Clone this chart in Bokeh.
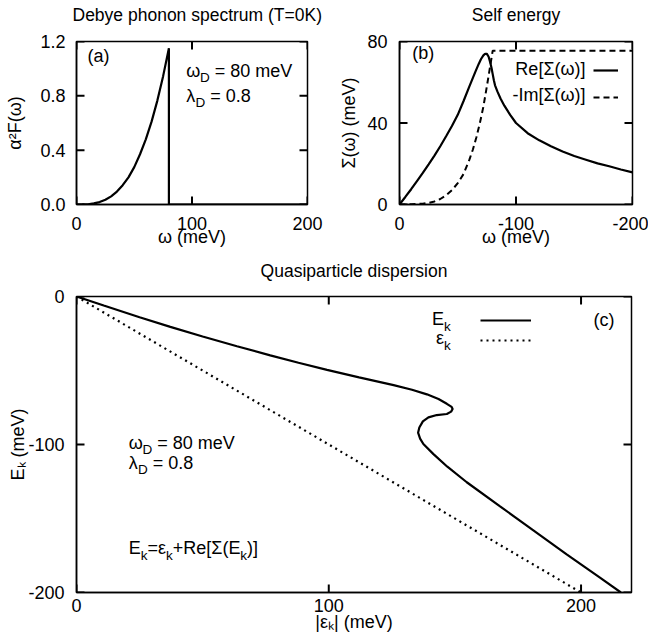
from bokeh.plotting import figure
from bokeh.layouts import column, row
from bokeh.models import (Range1d, FixedTicker, Label, Legend, LegendItem, LinearAxis, Title,
                          CustomJSTickFormatter)
from bokeh.embed import file_html
from bokeh.resources import INLINE

FONT = "Liberation Sans"
FS = 18

# ---------------- data ----------------
# (a) Debye phonon spectrum
omega_a = [0, 5, 10, 15, 20, 25, 30, 35, 40, 45, 50, 55, 60, 65, 70, 75, 80, 80, 200]
a2F = [0, 0.0003, 0.002, 0.008, 0.018, 0.035, 0.06, 0.095, 0.142, 0.2, 0.275, 0.37,
       0.48, 0.61, 0.765, 0.945, 1.15, 0, 0]

# (b) self energy
omega_re = [0, -5, -10, -15, -20, -25, -30, -35, -40, -45, -50, -55, -60, -65, -68, -70,
            -72, -73.5, -75, -76.5, -78, -79, -80, -81, -82, -84, -86.7, -90, -95, -100,
            -110, -120, -130, -140, -150, -160, -170, -180, -190, -200]
re_sigma = [0, 3.7, 7.5, 11.5, 15.5, 19.7, 24, 28.6, 33.5, 38.5, 44, 50.8, 58, 65, 69,
            71.4, 73.2, 74, 73.9, 72.5, 69.5, 67, 64, 61, 58.5, 55.5, 52, 48.5, 44, 40,
            35, 31.5, 28.6, 26, 23.8, 22, 20.2, 18.8, 17.2, 15.8]
omega_im = [0, -10, -20, -25, -30, -35, -40, -45, -50, -55, -60, -63, -66, -69, -72, -75,
            -77, -79, -80, -200]
im_sigma = [0, 0.1, 0.4, 0.8, 1.5, 2.7, 4.5, 7, 10.5, 15, 22, 27, 33, 40, 48, 58,
            65, 72, 75.5, 75.5]

# (c) quasiparticle dispersion
eps_k = [0, 10.8, 25, 37.2, 50, 63.6, 76.8, 88, 99.3, 112, 125.7, 133, 138.9, 143.5,
         146.8, 148.7, 149.1, 148.5, 146.8, 142.8, 139.5, 137.3, 135.9, 135.4, 136.2,
         137.5, 141.5, 147, 154.7, 167.9, 181.1, 194.3, 207.5, 215.8]
E_k = [0, -6.1, -14, -20.5, -27, -33.6, -39.8, -44.8, -49.6, -54.6, -59.9, -63, -66.1, -69.3,
       -72.5, -74.6, -76, -77.8, -79.4, -80.1, -81.7, -84.4, -88.5, -92, -96,
       -99.7, -106.5, -115, -125.5, -141.8, -158, -174.2, -190, -200]
eps_bare = [0, 200]
E_bare = [0, -200]

ticks_a_x = [0, 100, 200]
ticks_a_y = [0, 0.4, 0.8, 1.2]
ticks_b_x = [0, -100, -200]
ticks_b_y = [0, 40, 80]
ticks_c_x = [0, 100, 200]
ticks_c_y = [0, -100, -200]

# ---------------- helpers ----------------
W = {' ': 278, '=': 584, '+': 584, '-': 333, '.': 278, 'm': 833, 'e': 556, 'V': 667,
     'E': 667, 'k': 500, 'R': 722, 'I': 278, '[': 278, ']': 278, '(': 333, ')': 333,
     'D': 722, 'a': 556, 'b': 556, 'c': 500, 'Σ': 600, 'ω': 760, 'λ': 520, 'ε': 450}
for d in "0123456789":
    W[d] = 556

MID = 0.345  # em offset from alphabetic baseline to the middle of the em box


def tw(s, fs):
    return sum(W.get(c, 556) for c in s) / 1000.0 * fs


def txt(p, x, y, t, fs=FS, align="left"):
    p.add_layout(Label(x=x, y=y, y_offset=MID * fs, text=t, text_font=FONT,
                       text_font_size=f"{fs}px", text_baseline="middle", text_align=align,
                       text_color="black"))


def rich(p, x, y, parts, fs=FS, align="left"):
    sub_fs = fs * 0.75
    total = sum(tw(t, sub_fs if s else fs) for t, s in parts)
    off = -total if align == "right" else 0
    for t, s in parts:
        f = sub_fs if s else fs
        stripped = t.lstrip(" ")
        lead = tw(t[:len(t) - len(stripped)], f)
        yo = (-0.3 * fs + MID * f) if s else MID * f
        p.add_layout(Label(x=x, y=y, x_offset=off + lead, y_offset=yo,
                           text=stripped, text_font=FONT, text_font_size=f"{f:.1f}px",
                           text_baseline="middle", text_align="left", text_color="black"))
        off += tw(t, f)


def style(p, xt, yt, xstand, ystand, xlstand, ylstand, fw, fh, title, title_gap,
          title_align="center", title_offset=0, ydigits=0):
    p.xgrid.visible = False
    p.ygrid.visible = False
    p.outline_line_color = "black"
    p.outline_line_width = 1.5
    p.background_fill_color = "white"
    p.border_fill_color = "white"
    p.xaxis.ticker = FixedTicker(ticks=xt)
    p.yaxis.ticker = FixedTicker(ticks=yt)
    p.xaxis.formatter = CustomJSTickFormatter(code="return tick.toFixed(0)")
    p.yaxis.formatter = CustomJSTickFormatter(code=f"return tick.toFixed({ydigits})")
    for ax, st, lst in ((p.xaxis[0], xstand, xlstand), (p.yaxis[0], ystand, ylstand)):
        ax.major_tick_in = 0
        ax.major_tick_out = 0
        ax.minor_tick_line_color = None
        ax.axis_line_width = 1.5
        ax.major_label_text_font = FONT
        ax.major_label_text_font_size = f"{FS}px"
        ax.major_label_text_color = "black"
        ax.major_label_standoff = st
        ax.axis_label_text_font = FONT
        ax.axis_label_text_font_size = f"{FS}px"
        ax.axis_label_text_font_style = "normal"
        ax.axis_label_text_color = "black"
        ax.axis_label_standoff = lst
    # inward tick marks on all four sides (gnuplot style), 8 px long
    xr, yr = p.x_range, p.y_range
    ly = 8.0 * (yr.end - yr.start) / fh
    lx = 8.0 * (xr.end - xr.start) / fw
    xs = [[t, t] for t in xt] * 2
    ys = ([[yr.start, yr.start + ly] for t in xt] + [[yr.end, yr.end - ly] for t in xt])
    xs += [[xr.start, xr.start + lx] for t in yt] + [[xr.end, xr.end - lx] for t in yt]
    ys += [[t, t] for t in yt] * 2
    p.multi_line(xs=xs, ys=ys, line_color="black", line_width=2)
    # invisible spacer between the frame and the title
    spacer = LinearAxis(ticker=FixedTicker(ticks=xt), major_tick_out=title_gap,
                        major_tick_in=0, major_label_standoff=0,
                        major_label_text_font_size="0px",
                        formatter=CustomJSTickFormatter(code="return ''"),
                        axis_line_color=None, major_tick_line_color="white",
                        major_tick_line_alpha=0.01, minor_tick_line_color=None)
    p.add_layout(spacer, "above")
    p.add_layout(Title(text=title, align=title_align, offset=title_offset,
                       vertical_align="bottom", standoff=0, text_font=FONT,
                       text_font_size="17.5px", text_font_style="normal",
                       text_color="black"), "above")


# ---------------- panel (a) ----------------
pa = figure(width=330, height=250, x_range=Range1d(0, 200), y_range=Range1d(0, 1.2),
            output_backend="svg", toolbar_location=None, title=None,
            min_border_left=76, min_border_right=23, min_border_top=41, min_border_bottom=46,
            x_axis_label="ω (meV)", y_axis_label="α²F(ω)")
pa.line(omega_a, a2F, line_color="black", line_width=2.2)
style(pa, ticks_a_x, ticks_a_y, 12, 11, -6, 12, 231, 163,
      "Debye phonon spectrum (T=0K)", 17, title_align="left", title_offset=-4, ydigits=1)
txt(pa, 9.6, 1.049, "(a)")
rich(pa, 95, 0.939, [("ω", False), ("D", True), (" = 80 meV", False)])
rich(pa, 95, 0.753, [("λ", False), ("D", True), (" = 0.8", False)])

# ---------------- panel (b) ----------------
pb = figure(width=318, height=250, x_range=Range1d(0, -200), y_range=Range1d(0, 80),
            output_backend="svg", toolbar_location=None, title=None,
            min_border_left=69, min_border_right=16, min_border_top=41, min_border_bottom=46,
            x_axis_label="ω (meV)", y_axis_label="Σ(ω) (meV)")
r_re = pb.line(omega_re, re_sigma, line_color="black", line_width=2.2)
r_im = pb.line(omega_im, im_sigma, line_color="black", line_width=2, line_dash="6 4")
style(pb, ticks_b_x, ticks_b_y, 12, 12, -6, 5, 233, 163, "Self energy", 17)
txt(pb, -10.9, 71.4, "(b)")
txt(pb, -159.7, 63.7, "Re[Σ(ω)]", align="right")
txt(pb, -159.7, 50.6, "-Im[Σ(ω)]", align="right")
lgb = Legend(items=[LegendItem(label=" ", renderers=[r_re]),
                    LegendItem(label=" ", renderers=[r_im])],
             location=(194, 97), orientation="vertical", glyph_width=25, glyph_height=20,
             spacing=7, padding=0, margin=0, label_width=0, label_height=20, label_standoff=0,
             label_text_font_size="1px", border_line_alpha=0, background_fill_alpha=0)
pb.add_layout(lgb)

# ---------------- panel (c) ----------------
pc = figure(width=648, height=388, x_range=Range1d(0, 220), y_range=Range1d(-200, 0),
            output_backend="svg", toolbar_location=None, title=None,
            min_border_left=76, min_border_right=17, min_border_top=46, min_border_bottom=46,
            x_axis_label="|εₖ| (meV)", y_axis_label="Eₖ (meV)")
r_ek = pc.line(eps_k, E_k, line_color="black", line_width=2.2)
r_eps = pc.line(eps_bare, E_bare, line_color="black", line_width=2.2, line_dash="2 4")
style(pc, ticks_c_x, ticks_c_y, 6, 12, -3, -3, 555, 296, "Quasiparticle dispersion", 16)
txt(pc, 204.9, -20.4, "(c)")
rich(pc, 148.4, -19.6, [("E", False), ("k", True)], align="right")
rich(pc, 148.4, -32.5, [("ε", False), ("k", True)], align="right")
rich(pc, 20.7, -103.1, [("ω", False), ("D", True), (" = 80 meV", False)])
rich(pc, 20.7, -116.6, [("λ", False), ("D", True), (" = 0.8", False)])
rich(pc, 20.7, -174.2, [("E", False), ("k", True), ("=ε", False), ("k", True),
                        ("+Re[Σ(E", False), ("k", True), (")]", False)])
lgc = Legend(items=[LegendItem(label=" ", renderers=[r_ek]),
                    LegendItem(label=" ", renderers=[r_eps])],
             location=(404, 242), orientation="vertical", glyph_width=51, glyph_height=20,
             spacing=0, padding=0, margin=0, label_width=0, label_height=20, label_standoff=0,
             label_text_font_size="1px", border_line_alpha=0, background_fill_alpha=0)
pc.add_layout(lgc)

layout = column(row(pa, pb, spacing=0), pc, spacing=0)
open("out.html", "w").write(file_html(layout, INLINE))
